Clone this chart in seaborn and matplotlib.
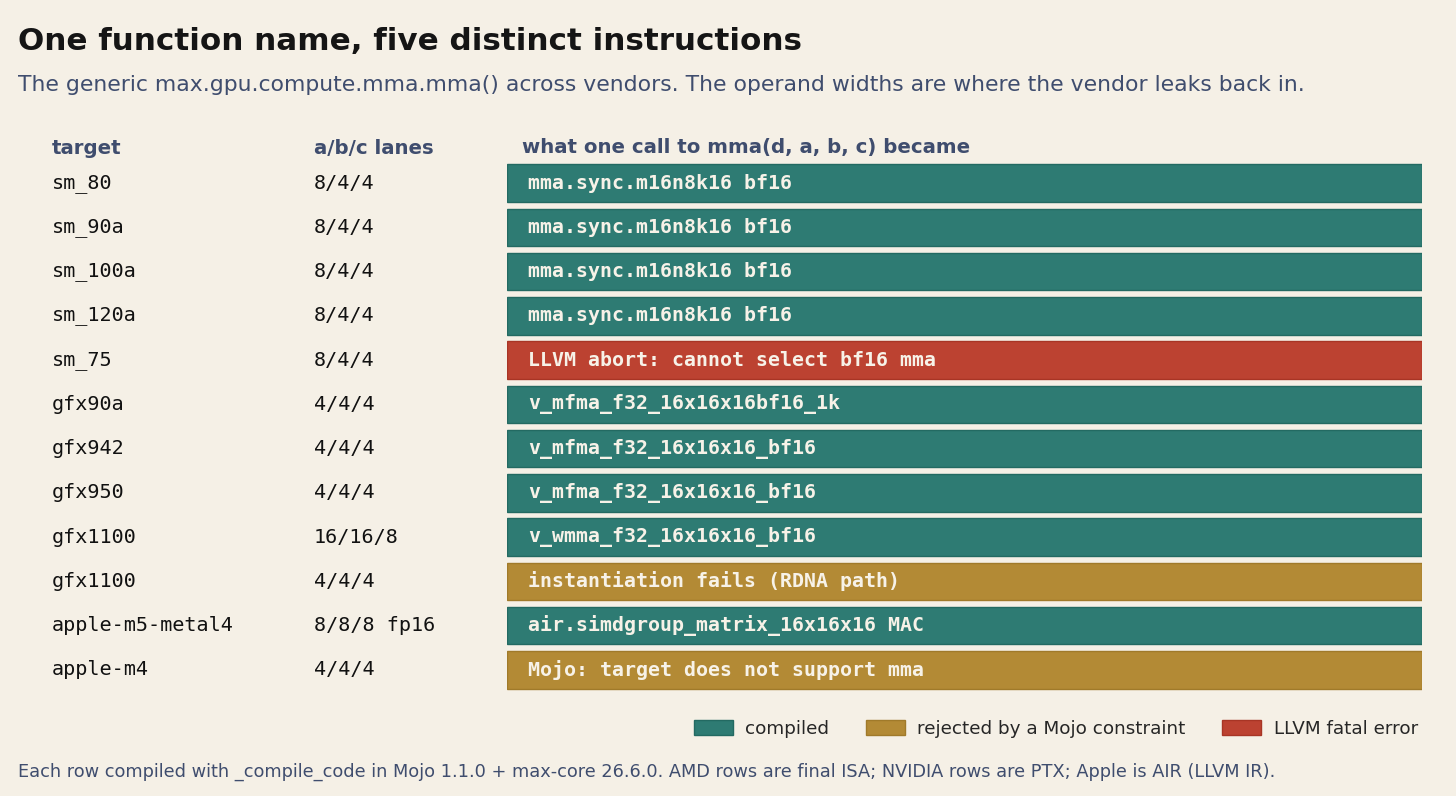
import pandas as pd
import matplotlib.pyplot as plt
import seaborn as sns
from matplotlib.patches import Patch
from matplotlib.transforms import blended_transform_factory

targets = ['sm_80', 'sm_90a', 'sm_100a', 'sm_120a', 'sm_75', 'gfx90a', 'gfx942',
           'gfx950', 'gfx1100', 'gfx1100', 'apple-m5-metal4', 'apple-m4']
lanes = ['8/4/4', '8/4/4', '8/4/4', '8/4/4', '8/4/4', '4/4/4', '4/4/4',
         '4/4/4', '16/16/8', '4/4/4', '8/8/8 fp16', '4/4/4']
results = ['mma.sync.m16n8k16 bf16', 'mma.sync.m16n8k16 bf16', 'mma.sync.m16n8k16 bf16',
           'mma.sync.m16n8k16 bf16', 'LLVM abort: cannot select bf16 mma',
           'v_mfma_f32_16x16x16bf16_1k', 'v_mfma_f32_16x16x16_bf16',
           'v_mfma_f32_16x16x16_bf16', 'v_wmma_f32_16x16x16_bf16',
           'instantiation fails (RDNA path)', 'air.simdgroup_matrix_16x16x16 MAC',
           'Mojo: target does not support mma']
status = ['compiled', 'compiled', 'compiled', 'compiled', 'LLVM fatal error',
          'compiled', 'compiled', 'compiled', 'compiled',
          'rejected by a Mojo constraint', 'compiled', 'rejected by a Mojo constraint']

status_order = ['compiled', 'rejected by a Mojo constraint', 'LLVM fatal error']
colors = {'compiled': '#2e7b73', 'rejected by a Mojo constraint': '#b38a35',
          'LLVM fatal error': '#bc4231'}
edges = {'compiled': '#236a62', 'rejected by a Mojo constraint': '#a07a2a',
         'LLVM fatal error': '#a83525'}

bg = '#f5f0e6'
slate = '#3f4d6e'

df = pd.DataFrame({'row': list(range(len(targets))), 'target': targets, 'lanes': lanes,
                   'result': results, 'status': status})
df['width'] = 1.0

sns.set_theme(style='white')
plt.rcParams['font.family'] = ['DejaVu Sans']

fig = plt.figure(figsize=(14.56, 7.96), dpi=100, facecolor=bg)
W, H = 1456, 796
top_px, bot_px = 161, 692
ax = fig.add_axes([507 / W, 1 - bot_px / H, (1422 - 507) / W, (bot_px - top_px) / H])
ax.set_facecolor(bg)

sns.barplot(data=df, x='width', y='row', hue='status', hue_order=status_order,
            palette=colors, orient='h', dodge=False, width=0.85, saturation=1,
            legend=False, ax=ax)
for cont, level in zip(ax.containers, status_order):
    for p in cont:
        p.set_edgecolor(edges[level])
        p.set_linewidth(1.0)

ax.set_xlim(0, 1)
ax.set_ylim(len(targets) - 0.5, -0.5)
ax.axis('off')

# row texts
trans = blended_transform_factory(fig.transFigure, ax.transData)
for i, r in df.iterrows():
    ax.text(0.023, r['row'], r['result'], color='#f7f2e8', fontsize=14.3,
            fontweight='bold', family='DejaVu Sans Mono', va='center', ha='left')
    ax.text(52 / W, r['row'], r['target'], transform=trans, fontsize=14.5,
            family='DejaVu Sans Mono', color='#111111', va='center', ha='left')
    ax.text(314 / W, r['row'], r['lanes'], transform=trans, fontsize=14.5,
            family='DejaVu Sans Mono', color='#111111', va='center', ha='left')

# headers
hy = 1 - 148 / H
for xpx, lab in [(52, 'target'), (314, 'a/b/c lanes'),
                 (522, 'what one call to mma(d, a, b, c) became')]:
    fig.text(xpx / W, hy, lab, fontsize=14.2, fontweight='bold', color=slate,
             va='center', family='DejaVu Sans')

fig.text(18 / W, 1 - 41 / H, 'One function name, five distinct instructions',
         fontsize=22.3, fontweight='bold', color='#151515', va='center', family='DejaVu Sans')
fig.text(18 / W, 1 - 85 / H,
         'The generic max.gpu.compute.mma.mma() across vendors. The operand widths are where the vendor leaks back in.',
         fontsize=15.75, color=slate, va='center', family='DejaVu Sans')
fig.text(18 / W, 1 - 772 / H,
         'Each row compiled with _compile_code in Mojo 1.1.0 + max-core 26.6.0. AMD rows are final ISA; NVIDIA rows are PTX; Apple is AIR (LLVM IR).',
         fontsize=12.75, color=slate, va='center', family='DejaVu Sans')

handles = [Patch(facecolor=colors[s], edgecolor=edges[s], label=s) for s in status_order]
fig.legend(handles=handles, loc='center right', bbox_to_anchor=(1418 / W, 1 - 729 / H),
           ncol=3, frameon=False, fontsize=13.2, handlelength=2.1, handleheight=0.83,
           columnspacing=2.0, handletextpad=0.7, borderaxespad=0, borderpad=0,
           prop={'family': 'DejaVu Sans', 'size': 13.2})

fig.savefig('out.png', dpi=100, facecolor=bg)
